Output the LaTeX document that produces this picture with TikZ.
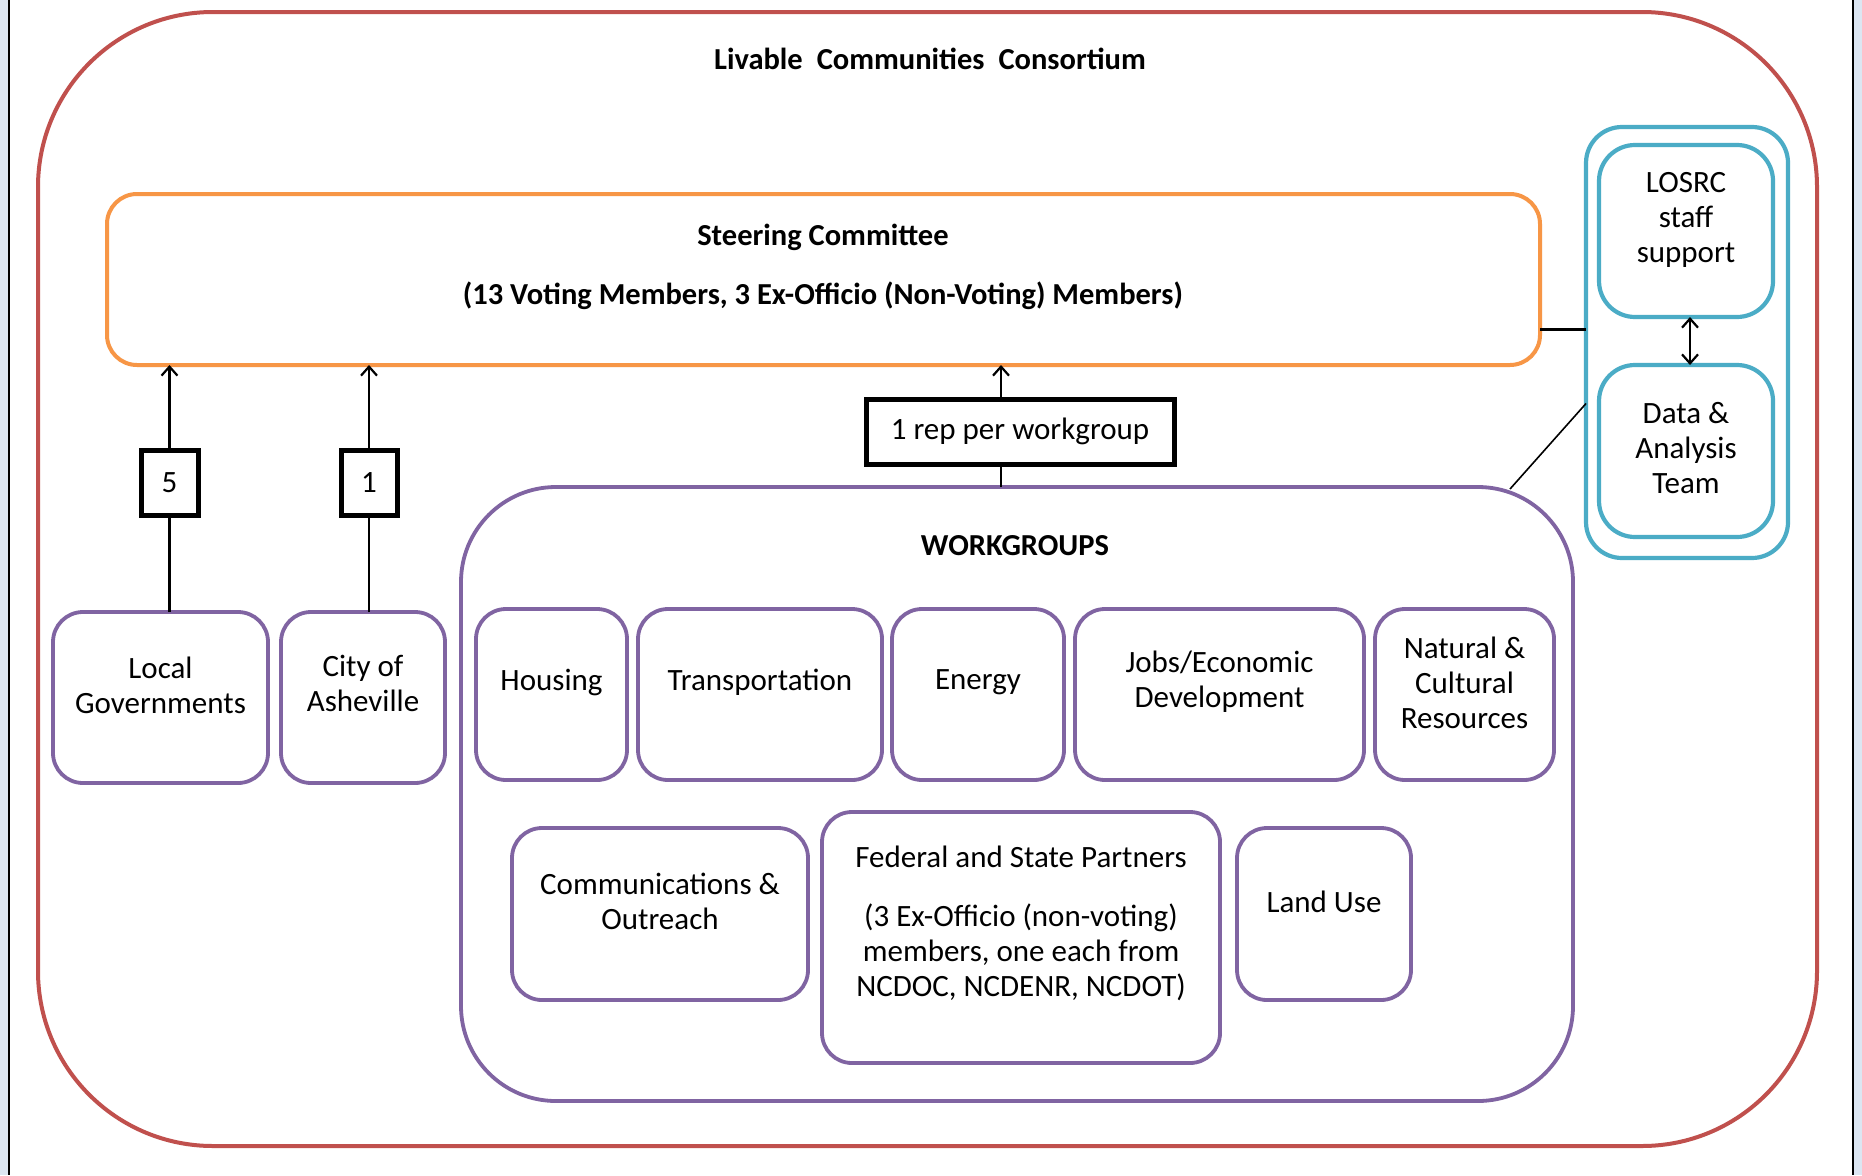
\documentclass[tikz,border=0pt]{standalone}
\usepackage{fontspec}
\setmainfont{Carlito}
\usetikzlibrary{arrows.meta}
\definecolor{cred}{HTML}{C0504D}
\definecolor{corange}{HTML}{F79646}
\definecolor{cpurple}{HTML}{8064A2}
\definecolor{cblue}{HTML}{4BACC6}
\definecolor{cstrip}{HTML}{DCE6F2}
\begin{document}
\begin{tikzpicture}[x=1pt,y=-1pt,
  txt/.style={font=\fontsize{31}{35}\selectfont, align=center, inner sep=0pt},
  btxt/.style={font=\fontsize{30.5}{35}\selectfont\bfseries, align=center, inner sep=0pt},
  shp/.style={inner sep=0pt, outer sep=0pt, anchor=north west},
  pbox/.style={shp, draw=cpurple, line width=3.8pt, rounded corners=30pt},
  bbox/.style={shp, draw=cblue, line width=4.2pt, rounded corners=36pt},
  kbox/.style={shp, draw=black, line width=5pt, font=\fontsize{31}{35}\selectfont},
  conn/.style={line width=2.2pt, draw=black},
  arr/.style={conn, -{Straight Barb[length=9pt,width=16pt]}},
  darr/.style={conn, {Straight Barb[length=9pt,width=16pt]}-{Straight Barb[length=9pt,width=16pt]}}
]
\useasboundingbox (0,0) rectangle (1862,1175);
\fill[white] (0,0) rectangle (1862,1175);
\fill[cstrip] (0,0) rectangle (8,1175);
\draw[line width=2pt] (9,0) -- (9,1175);
\fill[cstrip] (1854,0) rectangle (1862,1175);
\draw[line width=2pt] (1853,0) -- (1853,1175);

% outer consortium
\node[shp, draw=cred, line width=4pt, rounded corners=175pt, minimum width=1779pt, minimum height=1134pt] (lcc) at (38,12) {};
\node[btxt] (title) at (930,59) {Livable\hspace{14pt}Communities\hspace{14pt}Consortium};

% steering committee
\node[shp, draw=corange, line width=4pt, rounded corners=30pt, minimum width=1433pt, minimum height=171pt] (sc) at (107,194) {};
\node[btxt] (sctxt) at (823,267) {Steering Committee\\[24pt](13 Voting Members, 3 Ex-Officio (Non-Voting) Members)};

% support column
\node[bbox, minimum width=202pt, minimum height=431pt] (blue) at (1586,127) {};
\node[bbox, minimum width=174pt, minimum height=172pt] (losrc) at (1599,145) {};
\node[txt] (losrctxt) at (1686,220) {LOSRC\\staff\\support};
\node[bbox, minimum width=174pt, minimum height=172pt] (data) at (1599,365) {};
\node[txt] (datatxt) at (1686,448) {Data \&\\Analysis\\Team};
\draw[darr] ([xshift=4pt]losrc.south) -- ([xshift=4pt]data.north);
\coordinate (scr) at ([yshift=-50pt]sc.east);
\draw[conn] (scr) -- (scr -| blue.west);
\coordinate (bld) at ([yshift=-61pt]blue.west);
\coordinate (wgc) at (1510,489);
\draw[line width=1.6pt] (bld) -- (wgc);

% local governments and city
\node[pbox, minimum width=215pt, minimum height=171pt] (lg) at (53,612) {};
\node[txt] (lgtxt) at ([yshift=12pt]lg.center) {Local\\Governments};
\node[pbox, minimum width=164pt, minimum height=171pt] (city) at (281,612) {};
\node[txt] (citytxt) at ([yshift=14pt]city.center) {City of\\Asheville};
\node[kbox, minimum width=57pt, minimum height=65pt] (b5) at (141,450) {5};
\node[kbox, minimum width=56pt, minimum height=65pt] (b1) at (341,450) {1};
\draw[conn] (lg.north -| b5.south) -- (b5.south);
\draw[arr] (b5.north) -- (b5.north |- sc.south);
\draw[conn] (city.north -| b1.south) -- (b1.south);
\draw[arr] (b1.north) -- (b1.north |- sc.south);

% workgroups
\node[shp, draw=cpurple, line width=3.8pt, rounded corners=95pt, minimum width=1112pt, minimum height=614pt] (wg) at (461,487) {};
\node[btxt] (wgtxt) at (1015,546) {WORKGROUPS};
\node[kbox, minimum width=308pt, minimum height=65pt] (rep) at (866,399) {1 rep per workgroup};
\coordinate (repx) at (1001,432);
\draw[conn] (repx |- wg.north) -- (repx |- rep.south);
\draw[arr] (repx |- rep.north) -- (repx |- sc.south);

% row 1
\node[pbox, minimum width=151pt, minimum height=171pt] (hous) at (476,609) {};
\node[txt] (houstxt) at ([yshift=12pt]hous.center) {Housing};
\node[pbox, minimum width=244pt, minimum height=171pt] (trans) at (638,609) {};
\node[txt] (transtxt) at ([yshift=12pt]trans.center) {Transportation};
\node[pbox, minimum width=172pt, minimum height=171pt] (energy) at (892,609) {};
\node[txt] (energytxt) at ([yshift=12pt]energy.center) {Energy};
\node[pbox, minimum width=289pt, minimum height=171pt] (jobs) at (1075,609) {};
\node[txt] (jobstxt) at ([yshift=13pt]jobs.center) {Jobs/Economic\\Development};
\node[pbox, minimum width=179pt, minimum height=171pt] (nat) at (1375,609) {};
\node[txt] (nattxt) at ([yshift=12pt]nat.center) {Natural \&\\Cultural\\Resources};

% row 2
\node[pbox, minimum width=296pt, minimum height=172pt] (comm) at (512,828) {};
\node[txt] (commtxt) at ([yshift=13pt]comm.center) {Communications \&\\Outreach};
\node[pbox, minimum width=398pt, minimum height=251pt] (fed) at (822,812) {};
\node[txt] (fedtxt) at ([yshift=14pt]fed.center) {Federal and State Partners\\[24pt](3 Ex-Officio (non-voting)\\members, one each from\\NCDOC, NCDENR, NCDOT)};
\node[pbox, minimum width=174pt, minimum height=172pt] (land) at (1237,828) {};
\node[txt] (landtxt) at ([yshift=12pt]land.center) {Land Use};
\end{tikzpicture}
\end{document}
